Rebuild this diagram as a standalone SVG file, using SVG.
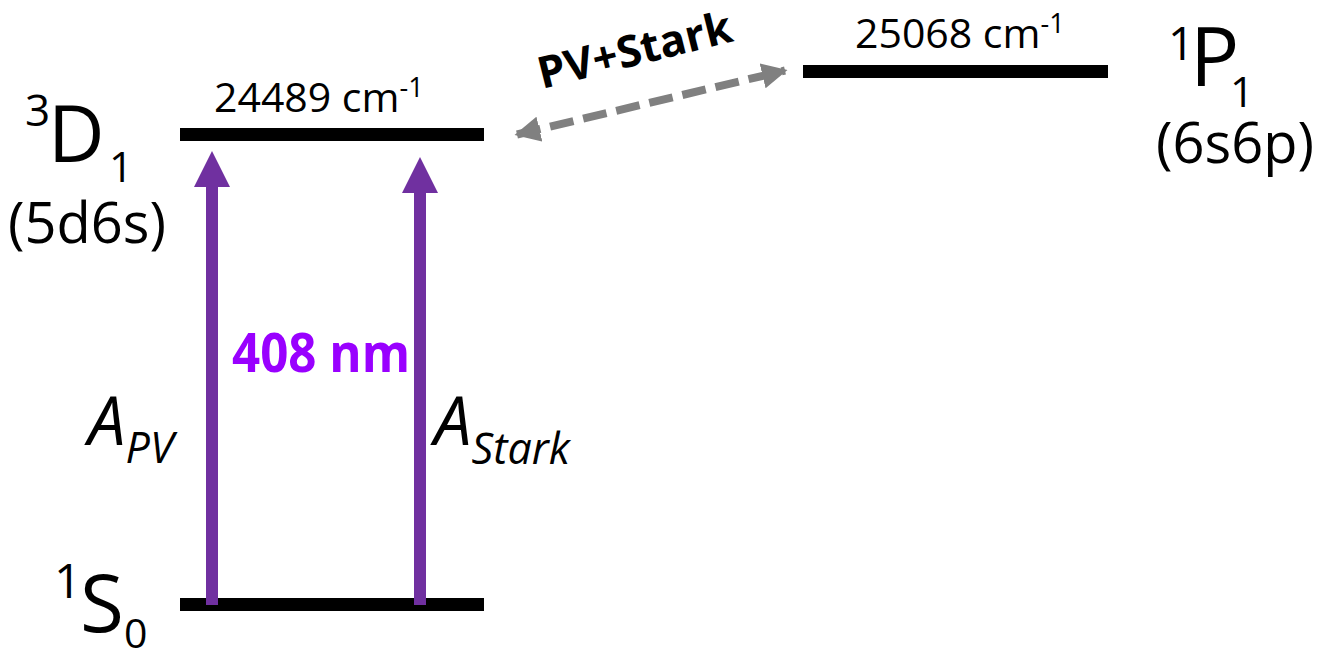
<svg xmlns="http://www.w3.org/2000/svg" width="1322" height="654" viewBox="0 0 1322 654">
  <style>
    .lbl { font-family: "Open Sans", "Liberation Sans", sans-serif; fill: #000; }
    .it { font-style: italic; }
    .level { fill: #000; }
    .pump { fill: #7030A0; }
  </style>
  <defs>
    <marker id="grayHead" viewBox="0 0 10 10" refX="9" refY="5" markerWidth="3.2" markerHeight="3.2" orient="auto-start-reverse" markerUnits="strokeWidth">
      <path d="M0,0 L10,5 L0,10 z" fill="#808080"/>
    </marker>
  </defs>
  <rect width="1322" height="654" fill="#fff"/>

  <!-- 3D1 level -->
  <g id="level-3D1">
    <rect class="level" x="180" y="128" width="304" height="13"/>
    <text class="lbl" x="214" y="112" font-size="41">24489 cm<tspan font-size="27" dy="-15">-1</tspan></text>
    <text class="lbl" x="25" y="126" font-size="44">3<tspan x="48" y="162" font-size="78">D</tspan><tspan x="109" y="182" font-size="42">1</tspan></text>
    <text class="lbl" x="8" y="243" font-size="56">(5d6s)</text>
  </g>

  <!-- 1P1 level -->
  <g id="level-1P1">
    <rect class="level" x="803" y="65" width="305" height="13"/>
    <text class="lbl" x="855" y="48" font-size="41">25068 cm<tspan font-size="27" dy="-15">-1</tspan></text>
    <text class="lbl" x="1168" y="60" font-size="46">1<tspan x="1190" y="86" font-size="82">P</tspan><tspan x="1230" y="107" font-size="42">1</tspan></text>
    <text class="lbl" x="1156" y="163" font-size="56">(6s6p)</text>
  </g>

  <!-- 1S0 level -->
  <g id="level-1S0">
    <rect class="level" x="180" y="598" width="304" height="13"/>
    <text class="lbl" x="54" y="598" font-size="48">1<tspan x="80" y="632" font-size="80">S</tspan><tspan x="124" y="648" font-size="41">0</tspan></text>
  </g>

  <!-- PV-mixing connector and pump transitions -->
  <g id="connectors">
    <line x1="517" y1="134.5" x2="785" y2="70.5" stroke="#808080" stroke-width="8" stroke-dasharray="24 10" marker-start="url(#grayHead)" marker-end="url(#grayHead)"/>
    <text class="lbl" font-weight="bold" font-size="44" transform="translate(542 89) rotate(-14)">PV+Stark</text>

    <g id="pump-PV">
      <rect class="pump" x="206" y="186" width="12" height="419"/>
      <polygon class="pump" points="194,187 230,187 212,151"/>
    </g>
    <g id="pump-Stark">
      <rect class="pump" x="414" y="192" width="12" height="413"/>
      <polygon class="pump" points="402,193 438,193 420,157"/>
    </g>

    <text class="lbl" x="232" y="372" font-size="54" font-weight="bold" fill="#9900FF" style="fill:#9900FF" textLength="178" lengthAdjust="spacingAndGlyphs">408 nm</text>

    <text class="lbl it" x="88" y="445" font-size="67">A<tspan font-size="43" dy="18">PV</tspan></text>
    <text class="lbl it" x="434" y="445" font-size="67">A<tspan font-size="43" dy="19">Stark</tspan></text>
  </g>
</svg>
